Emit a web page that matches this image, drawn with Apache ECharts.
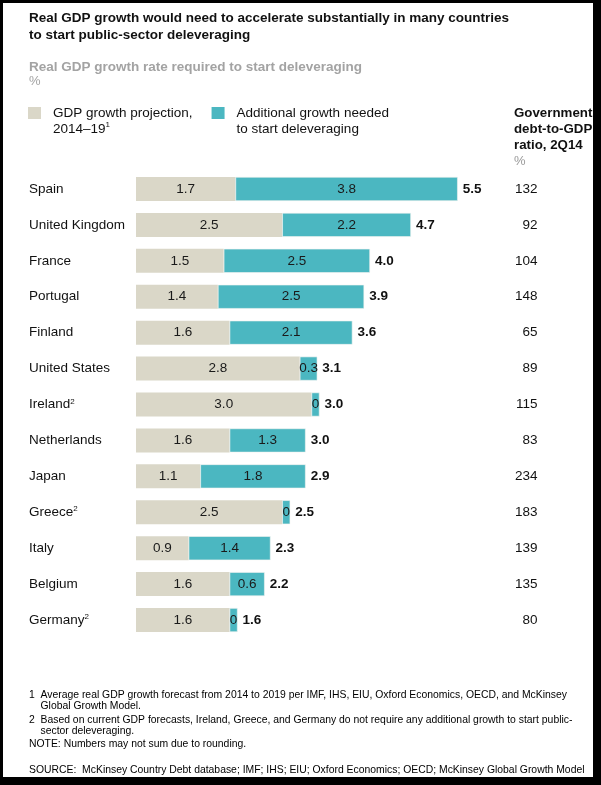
<!DOCTYPE html>
<html lang="en">
<head>
<meta charset="UTF-8">
<title>Real GDP growth required to start deleveraging</title>
<script src="https://cdn.jsdelivr.net/npm/echarts@6/dist/echarts.min.js"></script>
<style>
  html, body { margin: 0; padding: 0; background: #fff; }
  #main { width: 601px; height: 785px; }
</style>
</head>
<body>
<div id="main"></div>
<script type="text/javascript">
    // values
    var countries = ['Spain', 'United Kingdom', 'France', 'Portugal', 'Finland', 'United States', 'Ireland',
        'Netherlands', 'Japan', 'Greece', 'Italy', 'Belgium', 'Germany'];
    var countryNotes = ['', '', '', '', '', '', '2', '', '', '2', '', '', '2'];
    var projection = [1.7, 2.5, 1.5, 1.4, 1.6, 2.8, 3.0, 1.6, 1.1, 2.5, 0.9, 1.6, 1.6];
    var additional = [3.8, 2.2, 2.5, 2.5, 2.1, 0.3, 0, 1.3, 1.8, 0, 1.4, 0.6, 0];
    var required = [5.5, 4.7, 4.0, 3.9, 3.6, 3.1, 3.0, 3.0, 2.9, 2.5, 2.3, 2.2, 1.6];
    var debtRatio = [132, 92, 104, 148, 65, 89, 115, 83, 234, 183, 139, 135, 80];

    var seriesNames = ['GDP growth projection, 2014–19', 'Additional growth needed to start deleveraging'];
    var legendLabels = {
        'GDP growth projection, 2014–19': '{t|GDP growth projection,}\n{t|2014–19}{s|1}',
        'Additional growth needed to start deleveraging': '{t|Additional growth needed}\n{t|to start deleveraging}'
    };

    var footnotes = [
        ['1', 'Average real GDP growth forecast from 2014 to 2019 per IMF, IHS, EIU, Oxford Economics, OECD, and McKinsey', 695],
        ['', 'Global Growth Model.', 706],
        ['2', 'Based on current GDP forecasts, Ireland, Greece, and Germany do not require any additional growth to start public-', 720],
        ['', 'sector deleveraging.', 731.5],
        ['', 'NOTE: Numbers may not sum due to rounding.', 744.5],
        ['', 'SOURCE:  McKinsey Country Debt database; IMF; IHS; EIU; Oxford Economics; OECD; McKinsey Global Growth Model', 770.5]
    ];

    var FONT = 'Liberation Sans, Arial, Helvetica, sans-serif';
    var GRAY = '#dad7c8';
    var TEAL = '#4bb7c1';

    var myChart = echarts.init(document.getElementById('main'));

    var graphics = [
        {type: 'rect', shape: {x: 0, y: 0, width: 601, height: 3}, style: {fill: '#000'}},
        {type: 'rect', shape: {x: 0, y: 0, width: 3, height: 785}, style: {fill: '#000'}},
        {type: 'rect', shape: {x: 593, y: 0, width: 8, height: 785}, style: {fill: '#000'}},
        {type: 'rect', shape: {x: 0, y: 777, width: 601, height: 8}, style: {fill: '#000'}},
        {
            type: 'text', left: 514, top: 106.5,
            style: {
                text: '{b|Government}\n{b|debt-to-GDP}\n{b|ratio, 2Q14}\n{p|%}',
                rich: {
                    b: {fontFamily: FONT, fontSize: 13.3, fontWeight: 'bold', lineHeight: 16, fill: '#111'},
                    p: {fontFamily: FONT, fontSize: 13, lineHeight: 16, fill: '#9a9a9a'}
                }
            }
        }
    ];
    footnotes.forEach(function (f) {
        var indent = f[0] || f[1].indexOf('sector') === 0 || f[1].indexOf('Global') === 0;
        if (f[0]) {
            graphics.push({type: 'text', style: {x: 29, y: f[2], text: f[0], fontFamily: FONT, fontSize: 10.4,
                fill: '#000', verticalAlign: 'middle'}});
        }
        graphics.push({type: 'text', style: {x: indent ? 40.5 : 29, y: f[2], text: f[1],
            fontFamily: FONT, fontSize: 10.4, fill: '#000', verticalAlign: 'middle'}});
    });

    var option = {
        backgroundColor: '#fff',
        textStyle: {fontFamily: FONT},
        animation: false,
        title: {
            text: 'Real GDP growth would need to accelerate substantially in many countries\nto start public-sector deleveraging',
            subtext: '{b|Real GDP growth rate required to start deleveraging}\n{p|%}',
            left: 29,
            top: 10,
            padding: 0,
            itemGap: 16,
            textStyle: {fontFamily: FONT, fontSize: 13.5, fontWeight: 'bold', lineHeight: 17, color: '#111'},
            subtextStyle: {
                rich: {
                    b: {fontFamily: FONT, fontSize: 13.5, fontWeight: 'bold', lineHeight: 14.5, color: '#a3a3a3'},
                    p: {fontFamily: FONT, fontSize: 13, lineHeight: 14.5, color: '#a3a3a3'}
                }
            }
        },
        legend: {
            data: seriesNames,
            left: 28,
            top: 106,
            padding: 0,
            icon: 'rect',
            itemWidth: 13,
            itemHeight: 12,
            itemGap: 19,
            itemStyle: {borderWidth: 0},
            textStyle: {
                padding: [16.5, 0, 0, 7],
                rich: {
                    t: {fontFamily: FONT, fontSize: 13.5, lineHeight: 16.5, color: '#111'},
                    s: {fontFamily: FONT, fontSize: 8, lineHeight: 16.5, verticalAlign: 'top', color: '#111'}
                }
            },
            formatter: function (name) {
                return legendLabels[name];
            }
        },
        graphic: graphics,
        grid: {left: 136, top: 171, width: 409.5, height: 467},
        xAxis: {
            type: 'value', min: 0, max: 7, show: false
        },
        yAxis: [
            {
                type: 'category',
                data: countries,
                inverse: true,
                axisLine: {show: false},
                axisTick: {show: false},
                axisLabel: {
                    interval: 0,
                    align: 'left',
                    margin: 107,
                    formatter: function (v, i) {
                        return countryNotes[i] ? '{n|' + v + '}{s|' + countryNotes[i] + '}' : '{n|' + v + '}';
                    },
                    rich: {
                        n: {fontFamily: FONT, fontSize: 13.5, color: '#111'},
                        s: {fontFamily: FONT, fontSize: 8, color: '#111', verticalAlign: 'top', padding: [0, 0, 6, 0]}
                    }
                }
            },
            {
                type: 'category',
                data: countries,
                inverse: true,
                position: 'right',
                axisLine: {show: false},
                axisTick: {show: false},
                axisLabel: {
                    interval: 0,
                    inside: true,
                    margin: 8,
                    fontSize: 13.5,
                    color: '#111',
                    formatter: function (v, i) {
                        return String(debtRatio[i]);
                    }
                }
            }
        ],
        series: [
            {
                name: seriesNames[0],
                type: 'bar',
                stack: 'g',
                barWidth: 24,
                data: projection,
                itemStyle: {color: GRAY},
                label: {
                    show: true, position: 'inside', fontSize: 13.5, color: '#1a1a1a',
                    formatter: function (p) { return p.value.toFixed(1); }
                }
            },
            {
                name: seriesNames[1],
                type: 'bar',
                stack: 'g',
                barWidth: 24,
                barMinHeight: 8,
                data: additional,
                itemStyle: {color: TEAL, borderColor: '#f4f4f0', borderWidth: 0.6},
                label: {
                    show: true, position: 'inside', fontSize: 13.5, color: '#1a1a1a',
                    formatter: function (p) { return p.value === 0 ? '0' : p.value.toFixed(1); }
                }
            },
            {
                name: 'total',
                type: 'bar',
                stack: 'g',
                barWidth: 24,
                data: required.map(function (v, i) {
                    // push the total past the small stub drawn for zero additional growth
                    return {value: 0, label: {distance: additional[i] === 0 ? 13 : 5}};
                }),
                itemStyle: {color: 'rgba(0,0,0,0)'},
                label: {
                    show: true, position: 'right', fontSize: 13.5, fontWeight: 'bold', color: '#111',
                    formatter: function (p) { return required[p.dataIndex].toFixed(1); }
                },
                tooltip: {show: false}
            }
        ]
    };
    myChart.setOption(option);
</script>
</body>
</html>
